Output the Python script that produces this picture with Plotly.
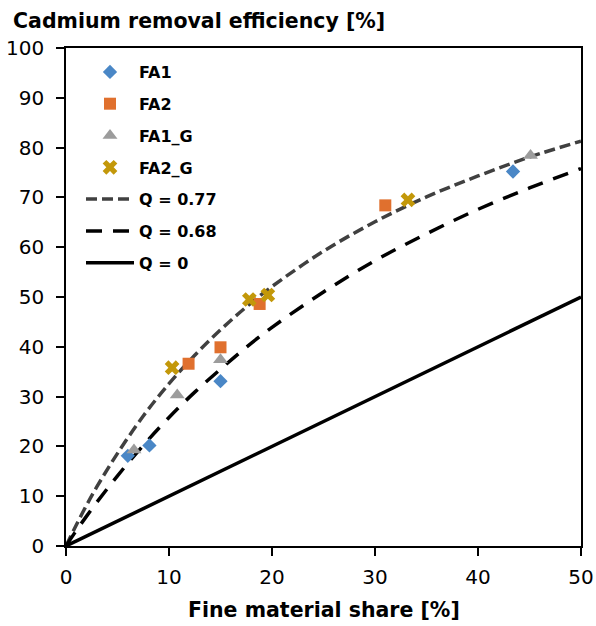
import plotly.graph_objects as go

# ---- data ----
fa1_x = [6.0, 8.1, 15.0, 43.4]
fa1_y = [18.1, 20.2, 33.1, 75.2]

fa2_x = [11.9, 15.0, 18.8, 31.0]
fa2_y = [36.6, 39.9, 48.6, 68.4]

fa1g_x = [6.6, 10.8, 15.0, 45.1]
fa1g_y = [19.3, 30.3, 37.4, 78.4]

fa2g_x = [10.3, 17.8, 19.6, 33.2]
fa2g_y = [35.8, 49.5, 50.4, 69.5]

curve_x = [0, 1, 2, 3, 5, 7.5, 10, 12.5, 15, 17.5, 20, 25, 30, 35, 40, 45, 50]
q077_y = [0, 4.2, 8.2, 11.9, 18.6, 26.1, 32.6, 38.3, 43.4, 48.0, 52.1, 59.2, 65.1, 70.1, 74.3, 78.1, 81.3]
q068_y = [0, 3.1, 6.0, 8.8, 14.1, 20.2, 25.8, 30.9, 35.5, 39.9, 43.9, 51.0, 57.3, 62.7, 67.6, 71.9, 75.8]

q0_x = [0, 50]
q0_y = [0, 50]

x_ticks = [0, 10, 20, 30, 40, 50]
y_ticks = [0, 10, 20, 30, 40, 50, 60, 70, 80, 90, 100]

FONT = "DejaVu Sans"
W, H = 596, 626
ML, MR, MT, MB = 66, 15, 48, 80
PW, PH = W - ML - MR, H - MT - MB

fig = go.Figure()

# lines (drawn first, listed last in legend)
fig.add_trace(go.Scatter(x=curve_x, y=q077_y, mode="lines", name="Q = 0.77",
                         line=dict(color="#404040", width=3.5, dash="11px,5px", shape="spline"),
                         legendgroup="g5", legendrank=5))
fig.add_trace(go.Scatter(x=curve_x, y=q068_y, mode="lines", name="Q = 0.68",
                         line=dict(color="#000000", width=3.5, dash="16px,11px", shape="spline"),
                         legendgroup="g6", legendrank=6))
fig.add_trace(go.Scatter(x=q0_x, y=q0_y, mode="lines", name="Q = 0",
                         line=dict(color="#000000", width=3.5),
                         legendgroup="g7", legendrank=7))

# markers
fig.add_trace(go.Scatter(x=fa1_x, y=fa1_y, mode="markers", name="FA1",
                         marker=dict(symbol="diamond", size=11, color="#4A87C6"),
                         legendgroup="g1", legendrank=1))
fig.add_trace(go.Scatter(x=fa2_x, y=fa2_y, mode="markers", name="FA2",
                         marker=dict(symbol="square", size=12, color="#E0702E"),
                         legendgroup="g2", legendrank=2))
fig.add_trace(go.Scatter(x=fa1g_x, y=fa1g_y, mode="markers", name="FA1_G",
                         marker=dict(symbol="triangle-up", size=13, color="#9C9C9C"),
                         legendgroup="g3", legendrank=3))
fig.add_trace(go.Scatter(x=fa2g_x, y=fa2g_y, mode="markers", name="FA2_G",
                         marker=dict(symbol="x", size=13, color="#C3980A"),
                         legendgroup="g4", legendrank=4))

fig.update_layout(
    width=W, height=H,
    margin=dict(l=ML, r=MR, t=MT, b=MB, autoexpand=False),
    paper_bgcolor="white", plot_bgcolor="white",
    font=dict(family=FONT, color="#000000"),
    showlegend=True,
    legend=dict(
        x=(81 - ML) / PW, y=1 - 7 / PH, xanchor="left", yanchor="top",
        bgcolor="rgba(0,0,0,0)",
        font=dict(family=FONT, size=16, color="#000000", weight="bold"),
        traceorder="grouped", tracegroupgap=8, itemwidth=48,
    ),
    annotations=[
        dict(text="<b>Cadmium removal efficiency [%]</b>",
             xref="paper", yref="paper", x=(11 - ML) / PW, y=1 + (MT - 21) / PH,
             xanchor="left", yanchor="middle", showarrow=False,
             font=dict(family=FONT, size=20.5, color="#000000")),
        dict(text="<b>Fine material share [%]</b>",
             xref="paper", yref="paper", x=0.5, y=-(610 - MT - PH) / PH,
             xanchor="center", yanchor="middle", showarrow=False,
             font=dict(family=FONT, size=20.5, color="#000000")),
    ],
)

fig.update_xaxes(
    range=[0, 50], tickvals=x_ticks, ticktext=[str(v) for v in x_ticks],
    showgrid=False, zeroline=False,
    showline=True, linecolor="#000000", linewidth=1.5, mirror=True,
    ticks="outside", ticklen=8, tickcolor="#000000", tickwidth=1.5,
    tickfont=dict(family=FONT, size=20, color="#000000"),
    ticklabelstandoff=4, automargin=False,
)
fig.update_yaxes(
    range=[0, 100], tickvals=y_ticks, ticktext=[str(v) for v in y_ticks],
    showgrid=False, zeroline=False,
    showline=True, linecolor="#000000", linewidth=1.5, mirror=True,
    ticks="outside", ticklen=8, tickcolor="#000000", tickwidth=1.5,
    tickfont=dict(family=FONT, size=20, color="#000000"),
    ticklabelstandoff=8, automargin=False,
)

fig.write_html("out.html", config={"displayModeBar": False},
               post_script="document.body.style.margin='0';")
